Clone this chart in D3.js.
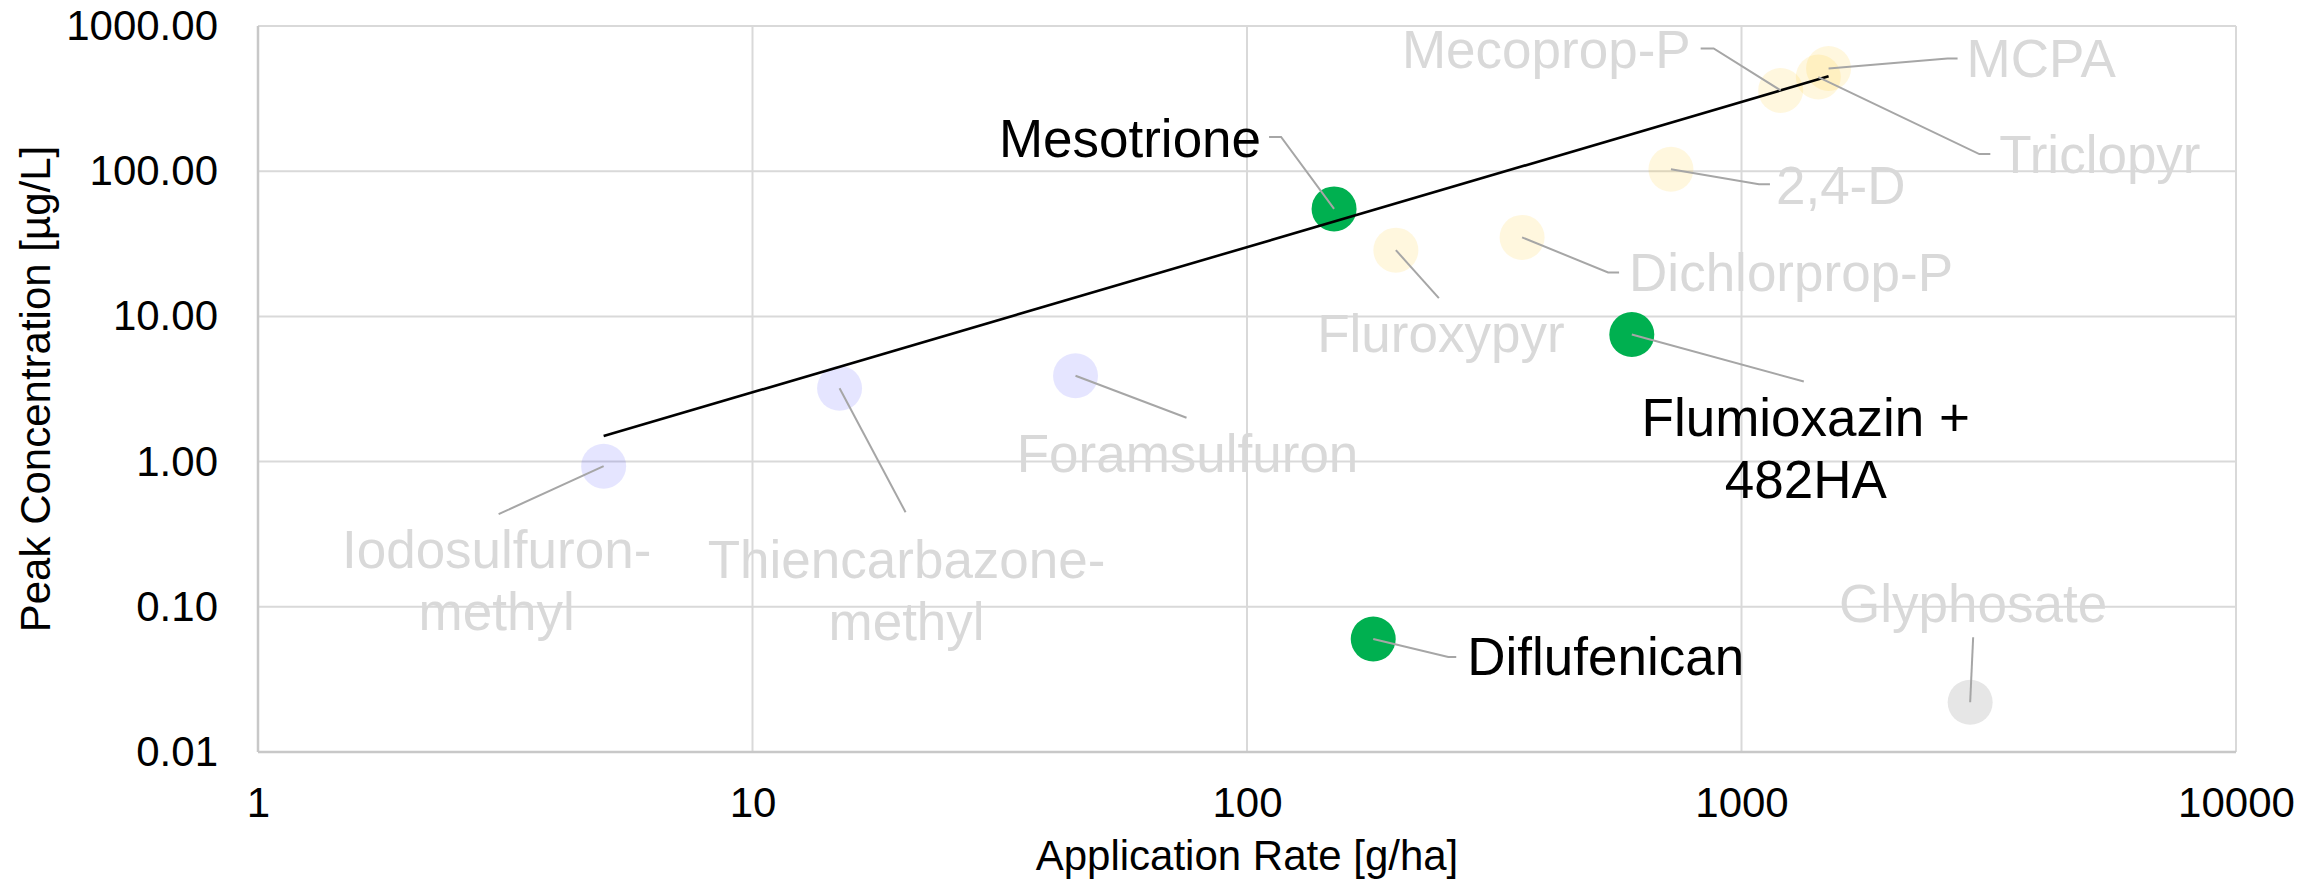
<!DOCTYPE html>
<html><head><meta charset="utf-8">
<script src="https://cdn.jsdelivr.net/npm/d3@7"></script>
<style>
html,body{margin:0;padding:0;background:#fff;}
svg{display:block;font-family:"Liberation Sans",Arial,sans-serif;}
</style>
</head><body>
<svg id="chart" width="2320" height="883"></svg>
<script>
// ---- data ----
const names = ["Iodosulfuron-methyl","Thiencarbazone-methyl","Foramsulfuron","Mesotrione","Fluroxypyr",
  "Diflufenican","Dichlorprop-P","Flumioxazin + 482HA","2,4-D","Mecoprop-P","Triclopyr","MCPA","Glyphosate"];
const labelLines = [["Iodosulfuron-","methyl"],["Thiencarbazone-","methyl"],["Foramsulfuron"],["Mesotrione"],["Fluroxypyr"],
  ["Diflufenican"],["Dichlorprop-P"],["Flumioxazin +","482HA"],["2,4-D"],["Mecoprop-P"],["Triclopyr"],["MCPA"],["Glyphosate"]];
const rates = [5, 15, 45, 150, 200, 180, 360, 600, 720, 1200, 1430, 1500, 2900];
const concs = [0.93, 3.2, 3.9, 55, 28.6, 0.06, 35, 7.5, 103, 360, 445, 510, 0.022];
const groups = ["sulfonyl","sulfonyl","sulfonyl","highlight","phenoxy","highlight","phenoxy","highlight","phenoxy","phenoxy","phenoxy","phenoxy","other"];
const trendRates = [5, 1500];
const trendConcs = [1.5, 450];
const xTicks = [1, 10, 100, 1000, 10000];
const yTicks = [0.01, 0.1, 1, 10, 100, 1000];

// ---- styles / layout ----
const fills = {highlight:"#00b050", phenoxy:"rgba(255,192,0,0.13)", sulfonyl:"rgba(0,0,255,0.1)", other:"#e6e6e6"};
const textColor = {highlight:"#000000", phenoxy:"#d9d9d9", sulfonyl:"#d9d9d9", other:"#d9d9d9"};
// label placement offsets (pixels, relative to the point) and leader-line bends
const labelLayout = [
  {dx:-107, dy:102, anchor:"middle", leader:[[-105,48]]},
  {dx:67, dy:190, anchor:"middle", leader:[[66,124]]},
  {dx:112, dy:96, anchor:"middle", leader:[[111,42]]},
  {dx:-73, dy:-52, anchor:"end", leader:[[-53,-72],[-65,-72]]},
  {dx:45, dy:102, anchor:"middle", leader:[[43,48]]},
  {dx:94, dy:36, anchor:"start", leader:[[75,18],[83,18]]},
  {dx:107, dy:54, anchor:"start", leader:[[86,35],[97,35]]},
  {dx:174, dy:101, anchor:"middle", leader:[[172,47]]},
  {dx:105, dy:35, anchor:"start", leader:[[88,15],[99,15]]},
  {dx:-90, dy:-22, anchor:"end", leader:[[-67,-42],[-80,-42]]},
  {dx:181, dy:96, anchor:"start", leader:[[161,77],[172,77]]},
  {dx:138, dy:9, anchor:"start", leader:[[119,-10],[129,-10]]},
  {dx:3, dy:-80, anchor:"middle", leader:[[3,-65]]}
];

const svg = d3.select("#chart");
const pL = 258, pR = 2236, pT = 26, pB = 752;
const x = d3.scaleLog().domain([1, 10000]).range([pL, pR]);
const y = d3.scaleLog().domain([0.01, 1000]).range([pB, pT]);

// grid
const grid = svg.append("g");
grid.selectAll("line.v").data(xTicks.slice(1)).enter().append("line")
  .attr("x1", d => x(d)).attr("x2", d => x(d)).attr("y1", pT).attr("y2", pB)
  .attr("stroke", "#d9d9d9").attr("stroke-width", 2);
grid.selectAll("line.h").data(yTicks.slice(1)).enter().append("line")
  .attr("x1", pL).attr("x2", pR).attr("y1", d => y(d)).attr("y2", d => y(d))
  .attr("stroke", "#d9d9d9").attr("stroke-width", 2);
// axis lines
svg.append("line").attr("x1", pL).attr("x2", pL).attr("y1", pT).attr("y2", pB)
  .attr("stroke", "#c8c8c8").attr("stroke-width", 2.5);
svg.append("line").attr("x1", pL).attr("x2", pR).attr("y1", pB).attr("y2", pB)
  .attr("stroke", "#c8c8c8").attr("stroke-width", 2.5);

// axes
const xAxis = svg.append("g").attr("transform", `translate(0,${pB})`)
  .call(d3.axisBottom(x).tickValues(xTicks).tickFormat(d3.format("d")).tickSize(0).tickPadding(35));
const yAxis = svg.append("g").attr("transform", `translate(${pL},0)`)
  .call(d3.axisLeft(y).tickValues(yTicks).tickFormat(d3.format(".2f")).tickSize(0).tickPadding(40));
[xAxis, yAxis].forEach(a => {
  a.select(".domain").remove();
  a.selectAll("text").attr("font-size", 42).attr("fill", "#000")
   .attr("font-family", '"Liberation Sans",Arial,sans-serif');
});

// axis titles
svg.append("text").attr("x", (pL + pR) / 2).attr("y", 870).attr("text-anchor", "middle")
  .attr("font-size", 42).attr("fill", "#000").text("Application Rate [g/ha]");
svg.append("text").attr("transform", `translate(50,${(pT + pB) / 2}) rotate(-90)`)
  .attr("text-anchor", "middle").attr("font-size", 42).attr("fill", "#000").text("Peak Concentration [µg/L]");

// points
const idx = d3.range(names.length);
svg.append("g").selectAll("circle").data(idx).enter().append("circle")
  .attr("cx", i => x(rates[i])).attr("cy", i => y(concs[i])).attr("r", 22.5)
  .attr("fill", i => fills[groups[i]]);

// trend line
svg.append("path")
  .datum(d3.range(trendRates.length))
  .attr("d", d3.line().x(i => x(trendRates[i])).y(i => y(trendConcs[i])))
  .attr("fill", "none").attr("stroke", "#000").attr("stroke-width", 2.6);

// leader lines
svg.append("g").selectAll("path").data(idx).enter().append("path")
  .attr("d", i => {
    const px = x(rates[i]), py = y(concs[i]);
    const pts = [[px, py]].concat(labelLayout[i].leader.map(p => [px + p[0], py + p[1]]));
    return d3.line()(pts);
  })
  .attr("fill", "none").attr("stroke", "#a6a6a6").attr("stroke-width", 2);

// labels
const lab = svg.append("g").selectAll("text").data(idx).enter().append("text")
  .attr("x", i => x(rates[i]) + labelLayout[i].dx)
  .attr("y", i => y(concs[i]) + labelLayout[i].dy)
  .attr("text-anchor", i => labelLayout[i].anchor)
  .attr("font-size", 53)
  .attr("fill", i => textColor[groups[i]]);
lab.each(function(i) {
  const t = d3.select(this);
  labelLines[i].forEach((ln, k) => {
    t.append("tspan").attr("x", x(rates[i]) + labelLayout[i].dx)
      .attr("dy", k === 0 ? 0 : 62).text(ln);
  });
});
</script>
</body></html>
